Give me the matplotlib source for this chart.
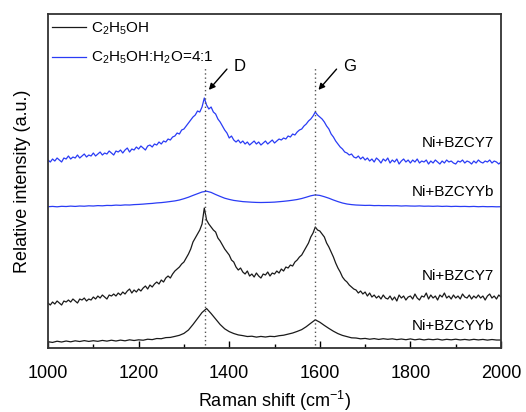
import numpy as np
import matplotlib.pyplot as plt
from matplotlib.ticker import MultipleLocator

plt.rcParams['font.family'] = ['Liberation Sans', 'DejaVu Sans']
plt.rcParams['mathtext.fontset'] = 'custom'
plt.rcParams['mathtext.rm'] = 'Liberation Sans'
plt.rcParams['mathtext.it'] = 'Liberation Sans:italic'

# Raman shift (cm-1): noisy curves every 5 cm-1, smooth ones every 10 cm-1
shift5 = np.arange(1000, 2001, 5)
shift10 = np.arange(1000, 2001, 10)

# curves already stacked with an offset (a.u.)
blue_bzcy7 = [188, 186, 189, 187, 190, 188, 186, 190, 189, 192,
              189, 191, 190, 193, 190, 192, 194, 191, 193, 192,
              195, 192, 194, 196, 193, 195, 194, 197, 195, 193,
              197, 196, 198, 195, 198, 200, 196, 199, 198, 201,
              199, 202, 200, 198, 202, 203, 201, 204, 203, 206,
              204, 207, 206, 209, 208, 211, 212, 215, 214, 218,
              219, 222, 225, 228, 231, 233, 237, 236, 241, 250,
              243, 239, 241, 236, 234, 229, 226, 222, 218, 215,
              210, 212, 208, 206, 208, 205, 207, 204, 206, 203,
              205, 207, 204, 206, 203, 205, 207, 204, 206, 208,
              205, 207, 209, 208, 210, 209, 212, 211, 214, 213,
              216, 218, 219, 222, 224, 227, 229, 232, 236, 233,
              231, 229, 226, 222, 219, 214, 211, 207, 204, 201,
              199, 196, 195, 193, 194, 191, 190, 192, 189, 191,
              188, 190, 187, 189, 186, 190, 188, 185, 189, 187,
              190, 185, 188, 186, 189, 184, 187, 189, 186, 188,
              185, 188, 186, 189, 185, 187, 186, 188, 184, 187,
              185, 188, 186, 184, 187, 185, 188, 186, 187, 185,
              184, 187, 186, 188, 185, 187, 186, 184, 187, 185,
              188, 186, 185, 187, 186, 188, 185, 187, 186, 184,
              186]

black_bzcy7 = [45, 43, 46, 44, 47, 45, 43, 47, 46, 48,
               46, 49, 47, 45, 49, 48, 50, 47, 49, 48,
               51, 49, 52, 50, 53, 51, 49, 53, 52, 54,
               52, 55, 53, 56, 54, 57, 59, 55, 58, 56,
               59, 57, 60, 62, 59, 63, 61, 64, 66, 64,
               68, 66, 70, 72, 70, 74, 77, 79, 81, 84,
               86, 90, 94, 99, 106, 110, 114, 118, 124, 140,
               128, 124, 121, 118, 116, 110, 107, 103, 99, 96,
               93, 88, 86, 81, 78, 80, 76, 74, 77, 72,
               74, 71, 75, 72, 70, 74, 73, 76, 72, 75,
               74, 77, 75, 79, 77, 81, 80, 83, 82, 86,
               88, 91, 93, 97, 101, 105, 111, 115, 121, 118,
               117, 114, 111, 105, 101, 96, 91, 85, 80, 76,
               71, 68, 66, 63, 61, 59, 58, 55, 57, 54,
               56, 52, 55, 51, 53, 50, 52, 49, 53, 50,
               49, 52, 48, 51, 47, 53, 50, 52, 48, 51,
               52, 49, 54, 50, 48, 52, 51, 55, 49, 53,
               50, 52, 48, 53, 51, 55, 50, 52, 49, 53,
               50, 52, 49, 54, 51, 50, 53, 49, 52, 50,
               53, 50, 52, 48, 52, 54, 50, 52, 49, 53,
               51]

blue_bzcyyb = [141.3, 141.6, 141.2, 141.7, 141.5, 141.9, 141.6, 142.0, 141.8, 142.2,
               142.0, 142.4, 142.2, 142.6, 142.5, 142.9, 142.7, 143.1, 143.0, 143.4,
               143.6, 143.9, 144.3, 144.6, 145.1, 145.4, 145.9, 146.5, 147.1, 148.0,
               149.3, 150.8, 152.6, 154.3, 156.0, 156.8, 155.6, 153.5, 151.6, 149.8,
               148.6, 147.6, 147.0, 146.4, 146.1, 145.8, 145.6, 145.5, 145.6, 145.7,
               145.9, 146.3, 146.7, 147.2, 147.8, 148.5, 149.5, 150.8, 152.2, 153.1,
               152.6, 151.3, 149.8, 148.0, 146.4, 145.0, 144.0, 143.4, 143.0, 142.8,
               142.6, 142.7, 142.4, 142.5, 142.3, 142.4, 142.2, 142.3, 142.0, 142.2,
               142.0, 141.9, 142.1, 141.8, 141.9, 141.7, 141.9, 141.6, 141.8, 141.5,
               141.7, 141.5, 141.6, 141.4, 141.6, 141.3, 141.5, 141.3, 141.4, 141.2,
               141.3]

black_bzcyyb = [6.3, 5.6, 6.8, 6.0, 7.0, 6.2, 7.2, 6.5, 7.4, 6.6,
                7.3, 6.7, 7.6, 6.9, 7.8, 7.0, 7.9, 7.2, 8.2, 7.5,
                8.2, 7.8, 8.8, 8.4, 9.5, 9.3, 10.4, 10.6, 11.6, 12.7,
                14.6, 18.0, 23.5, 29.5, 35.5, 39.5, 34.5, 29.0, 23.5, 19.2,
                16.4, 14.5, 13.1, 12.4, 11.5, 11.8, 10.9, 11.6, 11.0, 11.7,
                11.4, 12.3, 12.8, 13.9, 15.0, 16.6, 18.4, 21.3, 24.8, 28.2,
                25.8, 22.6, 19.6, 16.8, 14.4, 12.6, 11.4, 10.2, 10.0, 9.2,
                9.6, 8.8, 9.4, 8.6, 9.3, 8.7, 9.2, 8.4, 9.0, 8.3,
                9.1, 8.2, 8.9, 8.1, 8.8, 8.3, 8.9, 8.0, 8.7, 8.2,
                8.8, 8.1, 8.6, 8.0, 8.7, 8.1, 8.6, 7.9, 8.5, 8.0,
                8.0]

band_pos = [1347, 1589]
band_names = ['D', 'G']

blue = '#2a3cf5'
black = '#1a1a1a'

fig = plt.figure(figsize=(5.26, 4.12), dpi=100)
ax = fig.add_axes([0.0913, 0.1553, 0.8612, 0.8107])

ax.plot(shift10, black_bzcyyb, color=black, lw=0.9, label=r'C$_2$H$_5$OH')
ax.plot(shift5, blue_bzcy7, color=blue, lw=0.9, label=r'C$_2$H$_5$OH:H$_2$O=4:1')
ax.plot(shift5, black_bzcy7, color=black, lw=0.9)
ax.plot(shift10, blue_bzcyyb, color=blue, lw=0.9)

# dotted guides + arrows for the D and G bands
for pos, name in zip(band_pos, band_names):
    ax.plot([pos, pos], [3, 280], color='#555555', lw=1, ls=(0, (1, 2)))
    ax.annotate('', xy=(pos + 4, 256), xytext=(pos + 52, 281),
                arrowprops=dict(arrowstyle='-|>', color='black', lw=1,
                                mutation_scale=9))
    ax.text(pos + 76, 282, name, fontsize=12, ha='center', va='center')

# sample labels
ax.text(1985, 205, 'Ni+BZCY7', fontsize=11, ha='right', va='center')
ax.text(1985, 156, 'Ni+BZCYYb', fontsize=11, ha='right', va='center')
ax.text(1985, 72, 'Ni+BZCY7', fontsize=11, ha='right', va='center')
ax.text(1985, 22, 'Ni+BZCYYb', fontsize=11, ha='right', va='center')

ax.set_xlim(1000, 2000)
ax.set_ylim(0, 334)
ax.set_yticks([])
ax.xaxis.set_major_locator(MultipleLocator(200))
ax.xaxis.set_minor_locator(MultipleLocator(100))
ax.tick_params(axis='x', which='major', direction='in', length=5, width=1,
               labelsize=13, pad=12)
ax.tick_params(axis='x', which='minor', direction='in', length=3, width=1)
for sp in ax.spines.values():
    sp.set_linewidth(1.3)
    sp.set_color('#333333')

ax.set_xlabel(r'Raman shift (cm$^{-1}$)', fontsize=13, labelpad=5)
ax.set_ylabel('Relative intensity (a.u.)', fontsize=13, labelpad=12)

ax.legend(loc='upper left', bbox_to_anchor=(-0.014, 1.012), frameon=False,
          fontsize=11, handlelength=2.2, handletextpad=0.35, labelspacing=0.85,
          borderaxespad=0.3)

plt.savefig('out.png', dpi=100)
